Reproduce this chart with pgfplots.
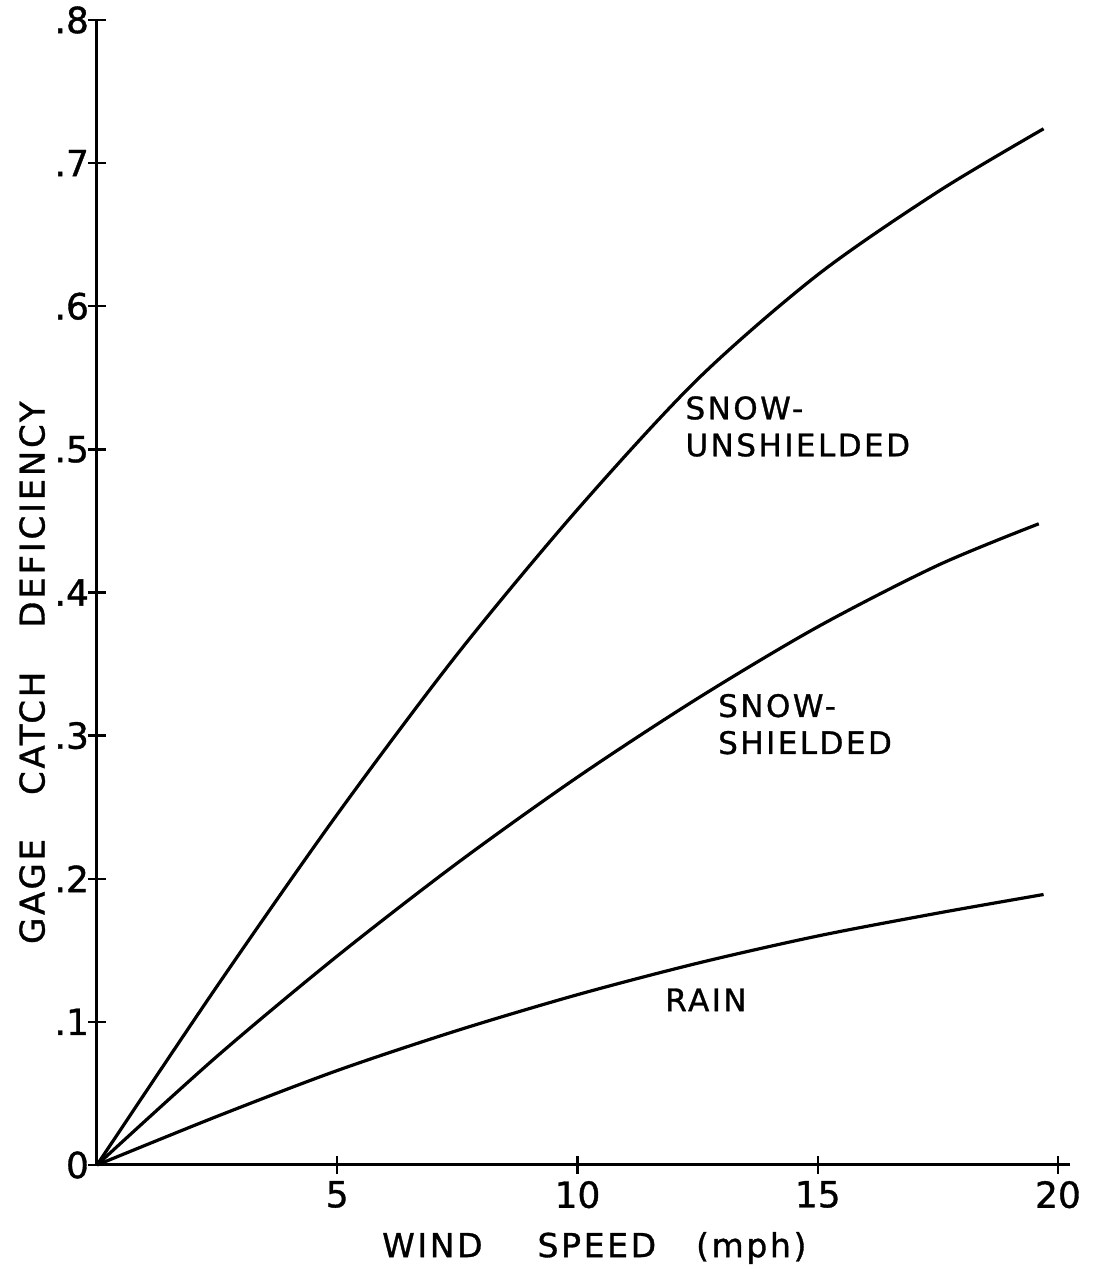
\documentclass[border=0pt]{standalone}
\usepackage{fontspec}
\setmainfont{DejaVu Sans}
\newfontfamily\lab[LetterSpace=8,FakeBold=1]{DejaVu Sans}
\newfontfamily\tck[FakeBold=1]{DejaVu Sans}
\usepackage{pgfplots}
\pgfplotsset{compat=1.18}
\begin{document}
\begin{tikzpicture}
\begin{axis}[
  at={(0,0)}, anchor=south west,
  scale only axis, width=486.5pt, height=572.5pt,
  xmin=0, xmax=20.25, ymin=0, ymax=0.8,
  axis lines=left,
  axis line style={line width=1.5pt, -},
  xtick={5,10,15,20}, xticklabels={5,10,15,20},
  ytick={0,0.1,0.2,0.3,0.4,0.5,0.6,0.7,0.8},
  yticklabels={0,.1,.2,.3,.4,.5,.6,.7,.8},
  tick align=center, major tick length=9pt,
  tick style={line width=1.2pt, black},
  ticklabel style={font=\tck\fontsize{18}{21}\selectfont},
  yticklabel style={xshift=4pt},
  clip=false,
]
\addplot[line width=1.6pt, smooth] coordinates {
 (0,0) (2.5,0.125) (5,0.245) (7.5,0.357) (10,0.458) (12.5,0.549) (15,0.622) (17.5,0.680) (19.7,0.724)};
\addplot[line width=1.6pt, smooth] coordinates {
 (0,0) (2.5,0.076) (5,0.146) (7.5,0.211) (10,0.271) (12.5,0.326) (15,0.376) (17.5,0.419) (19.6,0.448)};
\addplot[line width=1.6pt, smooth] coordinates {
 (0,0) (2.5,0.034) (5,0.066) (7.5,0.094) (10,0.119) (12.5,0.141) (15,0.160) (17.5,0.176) (19.7,0.189)};
\node[anchor=west, align=left, font=\lab\fontsize{15.5}{18.5}\selectfont, inner sep=0pt] at (axis cs:12.24,0.516) {SNOW-\\UNSHIELDED};
\node[anchor=west, align=left, font=\lab\fontsize{15.5}{18.5}\selectfont, inner sep=0pt] at (axis cs:12.92,0.308) {SNOW-\\SHIELDED};
\node[anchor=west, font=\lab\fontsize{15.5}{18.5}\selectfont, inner sep=0pt] at (axis cs:11.82,0.1154) {RAIN};
\node[font=\lab\fontsize{16.5}{20}\selectfont, inner sep=0pt] at (axis cs:10.35,-0.058) {WIND\hspace{27.5pt}SPEED\hspace{20pt}(mph)};
\node[rotate=90, font=\lab\fontsize{17}{20}\selectfont, inner sep=0pt] at (axis cs:-1.35,0.344) {GAGE\hspace{22pt}CATCH\hspace{22pt}DEFICIENCY};
\end{axis}
\pgfresetboundingbox
\useasboundingbox (-48.5pt,-52pt) rectangle (498.5pt,582.5pt);
\end{tikzpicture}
\end{document}
